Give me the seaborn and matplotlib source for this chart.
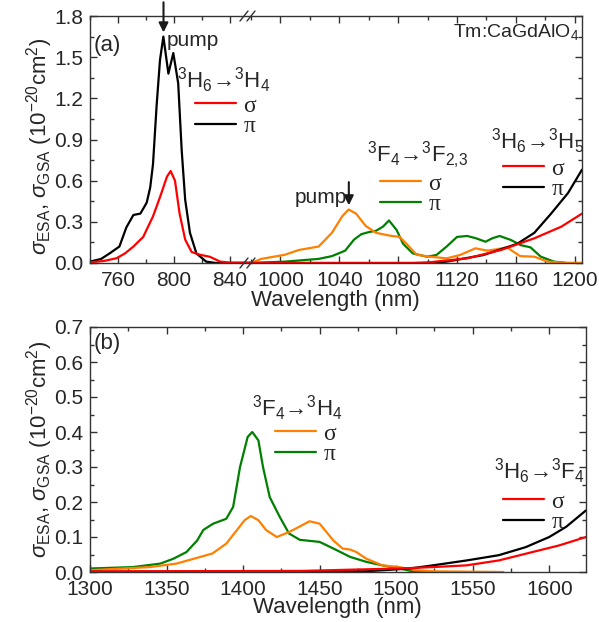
import matplotlib
matplotlib.use('Agg')
import matplotlib.pyplot as plt
import matplotlib.ticker as mt
from matplotlib.lines import Line2D
import seaborn as sns

# ---- (a) 3H6 -> 3H4 ground state absorption (left part of broken axis)
wl_h4_sig = [740, 750, 759, 765, 771, 778, 785, 790, 795, 797.6, 800.7, 804, 808, 812.6, 818.6, 825.7, 833, 840, 855]
h4_sig = [0.005, 0.015, 0.035, 0.07, 0.12, 0.19, 0.34, 0.48, 0.63, 0.67, 0.60, 0.36, 0.17, 0.08, 0.06, 0.045, 0.01, 0.003, 0.003]
wl_h4_pi = [740, 748, 754, 761, 766, 771, 776, 780.5, 783, 785, 787.6, 790, 792.4, 796, 799.5, 803, 805.5, 808, 811.4, 816, 823, 830, 855]
h4_pi = [0.01, 0.03, 0.07, 0.12, 0.26, 0.35, 0.36, 0.44, 0.55, 0.72, 1.15, 1.48, 1.65, 1.38, 1.53, 1.31, 0.82, 0.46, 0.22, 0.07, 0.01, 0.0, 0.0]

# ---- (a) 3F4 -> 3F2,3 excited state absorption
wl_f23_sig = [980, 987, 1003, 1012.6, 1026, 1035, 1042, 1046.4, 1051.4, 1058, 1065, 1074, 1081, 1085.7, 1092.6, 1101.7,
              1113, 1122, 1132.6, 1140.6, 1147, 1154, 1163, 1172.6, 1181.7, 1195, 1205]
f23_sig = [0.0, 0.03, 0.06, 0.095, 0.12, 0.22, 0.34, 0.39, 0.36, 0.27, 0.22, 0.20, 0.19, 0.14, 0.06, 0.046,
           0.034, 0.058, 0.107, 0.09, 0.10, 0.114, 0.05, 0.046, 0.01, 0.0, 0.0]
wl_f23_pi = [980, 1003, 1026, 1035, 1044, 1050, 1055, 1060, 1065, 1069.7, 1073.8, 1079, 1083.4, 1090, 1099.5, 1106,
             1113, 1120, 1127, 1133, 1139.4, 1144, 1149, 1156.6, 1163.4, 1170, 1177, 1186, 1195, 1205]
f23_pi = [0.0, 0.01, 0.03, 0.05, 0.09, 0.17, 0.21, 0.225, 0.235, 0.265, 0.31, 0.24, 0.14, 0.07, 0.046, 0.058,
          0.12, 0.19, 0.197, 0.18, 0.155, 0.18, 0.197, 0.168, 0.13, 0.114, 0.046, 0.01, 0.0, 0.0]

# ---- (a) 3H6 -> 3H5
wl_h5_sig = [980, 1090, 1101, 1127, 1150, 1172.6, 1191, 1205]
h5_sig = [0.0, 0.0, 0.005, 0.034, 0.095, 0.18, 0.265, 0.36]
wl_h5_pi = [980, 1100, 1113, 1138, 1161, 1172.6, 1184, 1195.5, 1205]
h5_pi = [0.0, 0.0, 0.01, 0.058, 0.14, 0.22, 0.36, 0.51, 0.68]

# ---- (b) 3F4 -> 3H4
wl_b_pi = [1300, 1328, 1346, 1354.5, 1363, 1370, 1374, 1380.4, 1389, 1393.5, 1398, 1403, 1406, 1410, 1413, 1417.4,
           1424, 1430, 1437, 1450, 1459, 1470, 1480.5, 1491, 1502, 1513, 1525]
b_pi = [0.01, 0.014, 0.024, 0.038, 0.057, 0.09, 0.12, 0.138, 0.152, 0.186, 0.30, 0.386, 0.40, 0.376, 0.30, 0.214,
        0.157, 0.11, 0.092, 0.086, 0.067, 0.043, 0.029, 0.019, 0.01, 0.0, 0.0]
wl_b_sig = [1300, 1339, 1356.5, 1372, 1380, 1389, 1396, 1401, 1405, 1410, 1415, 1422, 1430, 1437, 1443.4, 1450,
            1459, 1465, 1470, 1474, 1480.5, 1491, 1502, 1513, 1524, 1570]
b_sig = [0.005, 0.014, 0.024, 0.043, 0.053, 0.081, 0.12, 0.148, 0.16, 0.148, 0.12, 0.10, 0.114, 0.13, 0.145, 0.138,
         0.09, 0.067, 0.064, 0.057, 0.038, 0.019, 0.014, 0.005, 0.002, 0.0]

# ---- (b) 3H6 -> 3F4
wl_f4_sig = [1300, 1437, 1502, 1524, 1546, 1567, 1589, 1606.5, 1624]
f4_sig = [0.002, 0.003, 0.01, 0.014, 0.019, 0.033, 0.057, 0.076, 0.10]
wl_f4_pi = [1300, 1480, 1509, 1524, 1546, 1567, 1584.6, 1600, 1611, 1624]
f4_pi = [0.0, 0.002, 0.01, 0.019, 0.033, 0.048, 0.071, 0.10, 0.129, 0.176]

RED, BLACK, ORANGE, GREEN = '#ff0000', '#000000', '#ff8000', '#008000'

sns.set_theme(style='ticks')
plt.rcParams['font.family'] = ['Liberation Sans', 'DejaVu Sans']
plt.rcParams['mathtext.fontset'] = 'custom'
plt.rcParams['mathtext.rm'] = 'Liberation Sans'
plt.rcParams['mathtext.it'] = 'Liberation Sans:italic'
plt.rcParams['axes.linewidth'] = 1.0
plt.rcParams['axes.edgecolor'] = '#333333'

W, H = 599, 622
FS = 15
fig = plt.figure(figsize=(W / 100, H / 100), dpi=100)


def fr(x, y):
    return x / W, 1 - y / H


def rect(x0, y0, x1, y1):
    return [x0 / W, 1 - y1 / H, (x1 - x0) / W, (y1 - y0) / H]


ax1 = fig.add_axes(rect(90, 16, 251, 263))
ax2 = fig.add_axes(rect(251, 16, 582, 263), sharey=ax1)
ax3 = fig.add_axes(rect(90, 327, 586, 572))
for ax in (ax1, ax2):
    ax.patch.set_alpha(0)

LW = 1.6


def line(ax, x, y, c):
    sns.lineplot(x=x, y=y, ax=ax, color=c, lw=LW, legend=False, estimator=None)


line(ax1, wl_h4_pi, h4_pi, BLACK)
line(ax1, wl_h4_sig, h4_sig, RED)
line(ax2, wl_f23_pi, f23_pi, GREEN)
line(ax2, wl_f23_sig, f23_sig, ORANGE)
line(ax2, wl_h5_pi, h5_pi, BLACK)
line(ax2, wl_h5_sig, h5_sig, RED)
line(ax3, wl_b_pi, b_pi, GREEN)
line(ax3, wl_b_sig, b_sig, ORANGE)
line(ax3, wl_f4_pi, f4_pi, BLACK)
line(ax3, wl_f4_sig, f4_sig, RED)

ax1.set_xlim(740, 855)
ax2.set_xlim(980, 1205)
ax1.set_ylim(0, 1.8)
ax3.set_xlim(1300, 1624)
ax3.set_ylim(0, 0.7)

for ax in (ax1, ax2):
    ax.xaxis.set_major_locator(mt.MultipleLocator(40))
    ax.xaxis.set_minor_locator(mt.MultipleLocator(20))
ax1.yaxis.set_major_locator(mt.MultipleLocator(0.3))
ax1.yaxis.set_minor_locator(mt.MultipleLocator(0.15))
ax1.yaxis.set_major_formatter(mt.FormatStrFormatter('%.1f'))
ax3.xaxis.set_major_locator(mt.MultipleLocator(50))
ax3.xaxis.set_minor_locator(mt.MultipleLocator(25))
ax3.yaxis.set_major_locator(mt.MultipleLocator(0.1))
ax3.yaxis.set_minor_locator(mt.MultipleLocator(0.05))
ax3.yaxis.set_major_formatter(mt.FormatStrFormatter('%.1f'))

for ax in (ax1, ax2, ax3):
    ax.tick_params(which='both', direction='in', top=True, right=True, labelsize=FS,
                   color='#333333', width=1.0)
    ax.tick_params(axis='x', which='both', pad=6)
    ax.tick_params(axis='y', which='both', pad=5)
    ax.tick_params(which='major', length=5)
    ax.tick_params(which='minor', length=3)
    ax.set_xlabel('')
    ax.set_ylabel('')

ax1.spines['right'].set_visible(False)
ax2.spines['left'].set_visible(False)
ax1.tick_params(which='both', right=False)
ax2.tick_params(which='both', left=False, labelleft=False)

# axis break marks
for yb in (16, 263):
    for xb in (244, 251):
        fig.add_artist(Line2D([fr(xb - 4, 0)[0], fr(xb + 4, 0)[0]],
                              [fr(0, yb + 5)[1], fr(0, yb - 5)[1]],
                              color='#333333', lw=1.0))

ylab = r'$\sigma_{\rm ESA}$, $\sigma_{\rm GSA}$ (10$^{-20}$cm$^{2}$)'
ax1.set_ylabel(ylab, fontsize=16)
ax1.yaxis.set_label_coords(-0.215, 0.47)
ax3.set_ylabel(ylab, fontsize=16)
ax3.yaxis.set_label_coords(-0.07, 0.5)

fig.text(*fr(335, 300), 'Wavelength (nm)', fontsize=16, ha='center', va='center')
fig.text(*fr(337, 608), 'Wavelength (nm)', fontsize=16, ha='center', va='center')

fig.text(*fr(94, 45), '(a)', fontsize=16, ha='left', va='center')
fig.text(*fr(94, 343), '(b)', fontsize=16, ha='left', va='center')
fig.text(*fr(579, 32), r'Tm:CaGdAlO$_4$', fontsize=14, ha='right', va='center')

# pump arrows
ax1.annotate('', xy=(792.5, 1.66), xytext=(792.5, 1.92), annotation_clip=False,
             arrowprops=dict(arrowstyle='-|>', color='k', lw=1.5, mutation_scale=14))
ax1.text(795, 1.62, 'pump', fontsize=15, ha='left', va='center')
ax2.annotate('', xy=(1046.5, 0.40), xytext=(1046.5, 0.61), annotation_clip=False,
             arrowprops=dict(arrowstyle='-|>', color='k', lw=1.5, mutation_scale=14))
ax2.text(1045, 0.48, 'pump', fontsize=15, ha='right', va='center')


def key(ax, title, tx, ty, lx, ly, colors):
    fig.text(*fr(tx, ty), title, fontsize=16, ha='left', va='center')
    hs = [Line2D([], [], color=c, lw=LW) for c in colors]
    ax.legend(hs, ['σ', 'π'], loc='center left', bbox_to_anchor=fr(lx, ly),
              bbox_transform=fig.transFigure, frameon=False, borderpad=0, borderaxespad=0,
              handlelength=1.75, handletextpad=0.3, labelspacing=-0.05,
              prop={'family': 'Liberation Serif', 'size': 17})


key(ax1, r'$^3$H$_6$→$^3$H$_4$', 177, 80, 195, 116, [RED, BLACK])
key(ax2, r'$^3$F$_4$→$^3$F$_{2{,}3}$', 367, 155, 380, 194, [ORANGE, GREEN])
ax2.add_artist(ax2.get_legend())
key(ax2, r'$^3$H$_6$→$^3$H$_5$', 491, 141, 503, 179, [RED, BLACK])
key(ax3, r'$^3$F$_4$→$^3$H$_4$', 252, 408, 275, 444, [ORANGE, GREEN])
ax3.add_artist(ax3.get_legend())
key(ax3, r'$^3$H$_6$→$^3$F$_4$', 494, 471, 503, 512, [RED, BLACK])

fig.savefig('out.png', dpi=100)
